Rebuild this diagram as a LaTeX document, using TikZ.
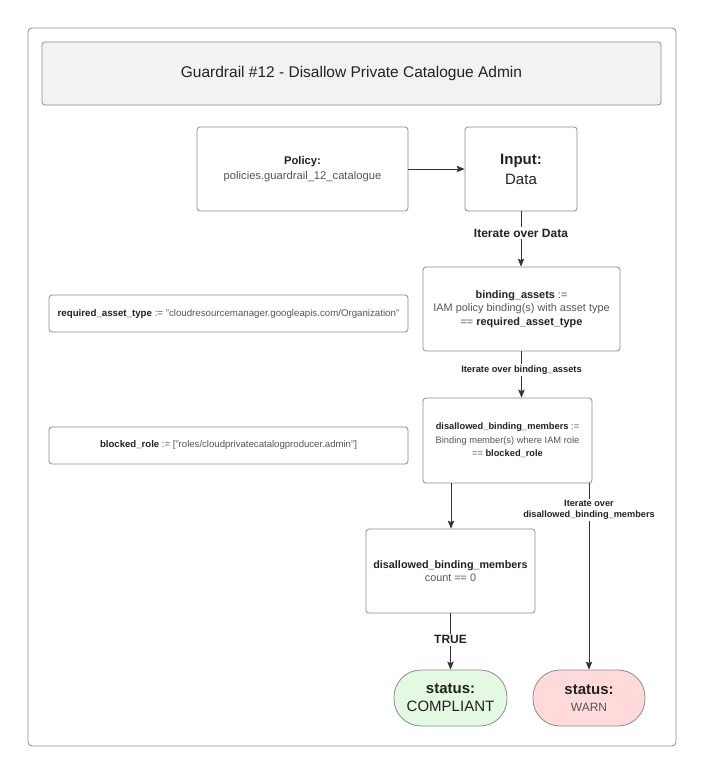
\documentclass[tikz,border=0pt]{standalone}
\usepackage{fontspec}
\setmainfont{Liberation Sans}
\usetikzlibrary{arrows.meta}
\definecolor{edgec}{HTML}{8C8C8C}
\definecolor{arrc}{HTML}{2E3440}
\definecolor{txt}{HTML}{222222}
\definecolor{txt2}{HTML}{555555}
\definecolor{titlefill}{HTML}{F1F2F4}
\definecolor{greenfill}{HTML}{E3F9E1}
\definecolor{redfill}{HTML}{FFDADB}
\tikzset{
  x=1pt, y=-1pt,
  box/.style={draw=edgec, line width=0.8pt, rounded corners=3pt, fill=white, inner sep=0pt, align=center, text=txt},
  pill/.style={draw=edgec, line width=0.8pt, rounded corners=27pt, inner sep=0pt, align=center, text=txt},
  conn/.style={draw=arrc, line width=0.8pt, -{Stealth[length=8pt,width=6.5pt,inset=1.5pt]}},
  lbl/.style={fill=white, inner sep=1.5pt, text=txt, align=center},
}
\newcommand{\sectxt}[1]{\textcolor{txt2}{\textmd{#1}}}
\begin{document}
\begin{tikzpicture}
\useasboundingbox (0,0) rectangle (704,774);
\fill[white] (0,0) rectangle (704,774);
% outer frame
\draw[edgec, line width=0.8pt, rounded corners=4pt] (28,28) rectangle (676,746);
% title
\node[box, fill=titlefill, minimum width=619pt, minimum height=63pt, font=\fontsize{15.5}{18}\selectfont] (title) at (351.5,73.5) {Guardrail \#12 - Disallow Private Catalogue Admin};
% policy
\node[box, minimum width=211pt, minimum height=84pt, font=\fontsize{11.2}{15}\selectfont] (policy) at (302.5,169) {\textbf{Policy:}\\ \sectxt{policies.guardrail\_12\_catalogue}};
% input
\node[box, minimum width=112pt, minimum height=84pt, font=\fontsize{15}{20}\selectfont] (input) at (521,169) {\textbf{Input:}\\ Data};
% binding assets
\node[box, minimum width=197pt, minimum height=84pt, font=\fontsize{10.9}{13.5}\selectfont] (bind) at (521.5,309) {\textbf{binding\_assets} \sectxt{:=}\\ \sectxt{IAM policy binding(s) with asset type}\\ \sectxt{==} \textbf{required\_asset\_type}};
% required asset type
\node[box, minimum width=359pt, minimum height=37pt, font=\fontsize{9.7}{11}\selectfont] (req) at (228.5,313.5) {\textbf{required\_asset\_type} \sectxt{:= "cloudresourcemanager.googleapis.com/Organization"}};
% disallowed
\node[box, minimum width=169pt, minimum height=85pt, font=\fontsize{9.3}{13.5}\selectfont] (dis) at (507.5,440.5) {\textbf{disallowed\_binding\_members} \sectxt{:=}\\ \sectxt{Binding member(s) where IAM role}\\ \sectxt{==} \textbf{blocked\_role}};
% blocked role
\node[box, minimum width=359pt, minimum height=37pt, font=\fontsize{9.6}{11}\selectfont] (blk) at (228.5,445.5) {\textbf{blocked\_role} \sectxt{:= ["roles/cloudprivatecatalogproducer.admin"]}};
% count
\node[box, minimum width=169pt, minimum height=84pt, font=\fontsize{10.8}{13.3}\selectfont] (cnt) at (450.5,571) {\textbf{disallowed\_binding\_members}\\ \sectxt{count == 0}};
% status nodes
\node[pill, fill=greenfill, minimum width=113pt, minimum height=56pt, font=\fontsize{15}{18}\selectfont] (comp) at (450.5,698) {\textbf{status:}\\ COMPLIANT};
\node[pill, fill=redfill, minimum width=112pt, minimum height=56pt, font=\fontsize{15}{16.5}\selectfont] (warn) at (589,698) {\textbf{status:}\\ \textcolor{txt2}{\fontsize{12}{12}\selectfont WARN}};
% connectors
\draw[conn] (policy.east) -- (input.west);
\draw[conn] (input.south) -- node[lbl, font=\bfseries\fontsize{12}{14}\selectfont, pos=0.39] {Iterate over Data} (input.south |- bind.north);
\draw[conn] (bind.south) -- node[lbl, font=\bfseries\fontsize{9.3}{11}\selectfont, pos=0.4] {Iterate over binding\_assets} (bind.south |- dis.north);
\coordinate (d1) at (451,483);
\coordinate (d2) at (589,483);
\draw[conn] (d1) -- (d1 |- cnt.north);
\draw[conn] (d2) -- node[lbl, font=\bfseries\fontsize{9.2}{11}\selectfont, pos=0.145] {Iterate over\\ disallowed\_binding\_members} (warn.north);
\draw[conn] (cnt.south) -- node[lbl, font=\bfseries\fontsize{12}{14}\selectfont, pos=0.47] {TRUE} (comp.north);
\end{tikzpicture}
\end{document}
